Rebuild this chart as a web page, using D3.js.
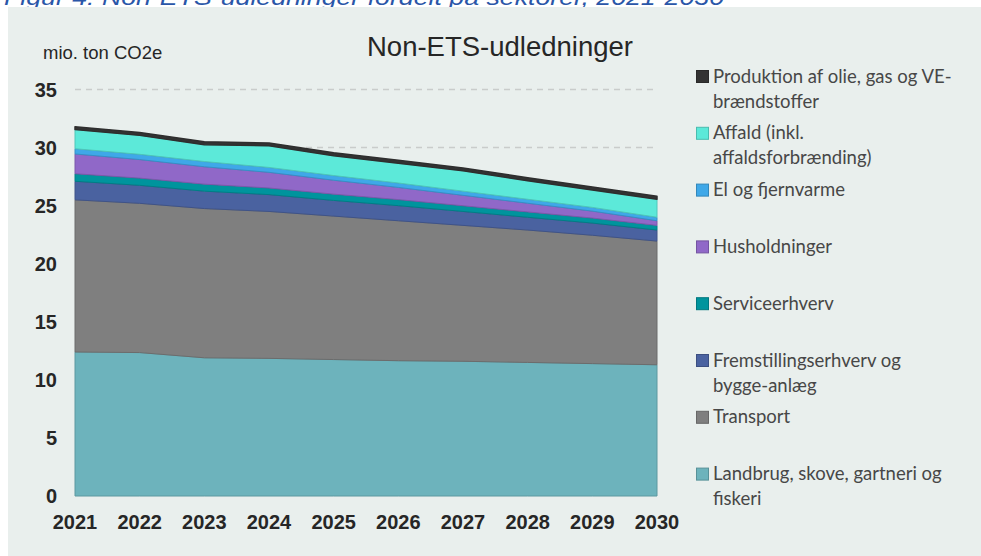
<!DOCTYPE html>
<html>
<head>
<meta charset="utf-8">
<script src="https://cdn.jsdelivr.net/npm/d3@7"></script>
<style>
  body { margin: 0; background: #fff; }
  svg { display: block; }
</style>
</head>
<body>
<svg id="chart" width="981" height="556"></svg>
<script>
// data (mio. ton CO2e)
const years = [2021, 2022, 2023, 2024, 2025, 2026, 2027, 2028, 2029, 2030];
const landbrug     = [12.4, 12.35, 11.9, 11.85, 11.75, 11.65, 11.6, 11.5, 11.4, 11.3];
const transport    = [13.1, 12.85, 12.85, 12.65, 12.35, 12.05, 11.7, 11.4, 11.05, 10.65];
const fremstilling = [1.6, 1.55, 1.5, 1.45, 1.35, 1.3, 1.2, 1.1, 1.05, 0.95];
const service      = [0.65, 0.62, 0.6, 0.57, 0.54, 0.52, 0.49, 0.46, 0.43, 0.4];
const husholdning  = [1.7, 1.6, 1.5, 1.35, 1.2, 1.05, 0.9, 0.75, 0.6, 0.4];
const elFjernvarme = [0.45, 0.45, 0.45, 0.42, 0.4, 0.38, 0.36, 0.34, 0.32, 0.3];
const affald       = [1.65, 1.63, 1.45, 1.86, 1.71, 1.7, 1.75, 1.6, 1.5, 1.55];
const produktion   = [0.25, 0.25, 0.25, 0.25, 0.25, 0.25, 0.25, 0.25, 0.25, 0.25];

const yTicks = [0, 5, 10, 15, 20, 25, 30, 35];
const gridTicks = [30, 35];

// bottom -> top stacking order
const keys = ["landbrug", "transport", "fremstilling", "service", "husholdning", "el", "affald", "produktion"];
const series = { landbrug, transport, fremstilling, service, husholdning, el: elFjernvarme, affald, produktion };
const colors = {
  landbrug: "#6db3bc", transport: "#7f7f7f", fremstilling: "#4a62a0", service: "#00949d",
  husholdning: "#9068c8", el: "#3fa8e8", affald: "#5ce9d9", produktion: "#333333"
};
const labels = {
  produktion: ["Produktion af olie, gas og VE-", "brændstoffer"],
  affald: ["Affald (inkl.", "affaldsforbrænding)"],
  el: ["El og fjernvarme"],
  husholdning: ["Husholdninger"],
  service: ["Serviceerhverv"],
  fremstilling: ["Fremstillingserhverv og", "bygge-anlæg"],
  transport: ["Transport"],
  landbrug: ["Landbrug, skove, gartneri og", "fiskeri"]
};
const legendOrder = ["produktion", "affald", "el", "husholdning", "service", "fremstilling", "transport", "landbrug"];

const table = years.map((y, i) => {
  const row = { year: y };
  keys.forEach(k => row[k] = series[k][i]);
  return row;
});

const svg = d3.select("#chart");

// caption, cut off at the top like in the source image
svg.append("text")
  .attr("x", 4).attr("y", 5)
  .attr("font-family", "Liberation Sans, Arial, sans-serif")
  .attr("font-style", "italic")
  .attr("font-size", 22)
  .attr("fill", "#2a56a8")
  .attr("textLength", 720)
  .attr("lengthAdjust", "spacingAndGlyphs")
  .text("Figur 4: Non-ETS-udledninger fordelt på sektorer, 2021-2030");

// panel
svg.append("rect")
  .attr("x", 8).attr("y", 7).attr("width", 973).attr("height", 549)
  .attr("fill", "#e9efed");

const x = d3.scaleLinear().domain([2021, 2030]).range([75, 657]);
const y = d3.scaleLinear().domain([0, 35]).range([496, 89.5]);

// gridlines
svg.append("g").selectAll("line").data(gridTicks).join("line")
  .attr("x1", x(2021)).attr("x2", x(2030))
  .attr("y1", d => y(d)).attr("y2", d => y(d))
  .attr("stroke", "#c9cccb").attr("stroke-width", 1.5)
  .attr("stroke-dasharray", "6,5");

const stack = d3.stack().keys(keys);
const layers = stack(table);

const area = d3.area()
  .x(d => x(d.data.year))
  .y0(d => y(d[0]))
  .y1(d => y(d[1]));

svg.append("g").selectAll("path").data(layers).join("path")
  .attr("d", area)
  .attr("fill", d => colors[d.key])
  .attr("stroke", d => d.key === "produktion" ? "#2e2e2e" : d3.color(colors[d.key]).darker(0.45))
  .attr("stroke-width", d => d.key === "produktion" ? 1.5 : 1)
  .attr("stroke-linejoin", "round");

// y axis labels
svg.append("g").selectAll("text").data(yTicks).join("text")
  .attr("x", 57).attr("y", d => y(d))
  .attr("dy", "0.36em")
  .attr("text-anchor", "end")
  .attr("font-family", "Liberation Sans, Arial, sans-serif")
  .attr("font-weight", "bold")
  .attr("font-size", 20)
  .attr("fill", "#262626")
  .text(d => d);

// x axis labels
svg.append("g").selectAll("text").data(years).join("text")
  .attr("x", d => x(d)).attr("y", 529)
  .attr("text-anchor", "middle")
  .attr("font-family", "Liberation Sans, Arial, sans-serif")
  .attr("font-weight", "bold")
  .attr("font-size", 20)
  .attr("fill", "#262626")
  .text(d => d);

// unit + title
svg.append("text")
  .attr("x", 43).attr("y", 59)
  .attr("font-family", "Liberation Sans, Arial, sans-serif")
  .attr("font-size", 18.5)
  .attr("fill", "#262626")
  .text("mio. ton CO2e");

svg.append("text")
  .attr("x", 500).attr("y", 56)
  .attr("text-anchor", "middle")
  .attr("font-family", "Liberation Sans, Arial, sans-serif")
  .attr("font-size", 27.5)
  .attr("fill", "#262626")
  .text("Non-ETS-udledninger");

// legend
const legend = svg.append("g").selectAll("g").data(legendOrder).join("g")
  .attr("transform", (d, i) => `translate(696, ${70 + i * 56.8})`);

legend.append("rect")
  .attr("width", 12).attr("height", 12)
  .attr("x", 0.5).attr("y", 0.5)
  .attr("fill", d => colors[d])
  .attr("stroke", d => d3.color(colors[d]).darker(0.6));

legend.each(function(k) {
  d3.select(this).selectAll("text").data(labels[k]).join("text")
    .attr("x", 17).attr("y", (d, i) => 12.5 + i * 25)
    .attr("font-family", "Lato, 'Open Sans', sans-serif")
    .attr("font-size", 18.5)
    .attr("fill", "#474747")
    .text(d => d);
});
</script>
</body>
</html>
